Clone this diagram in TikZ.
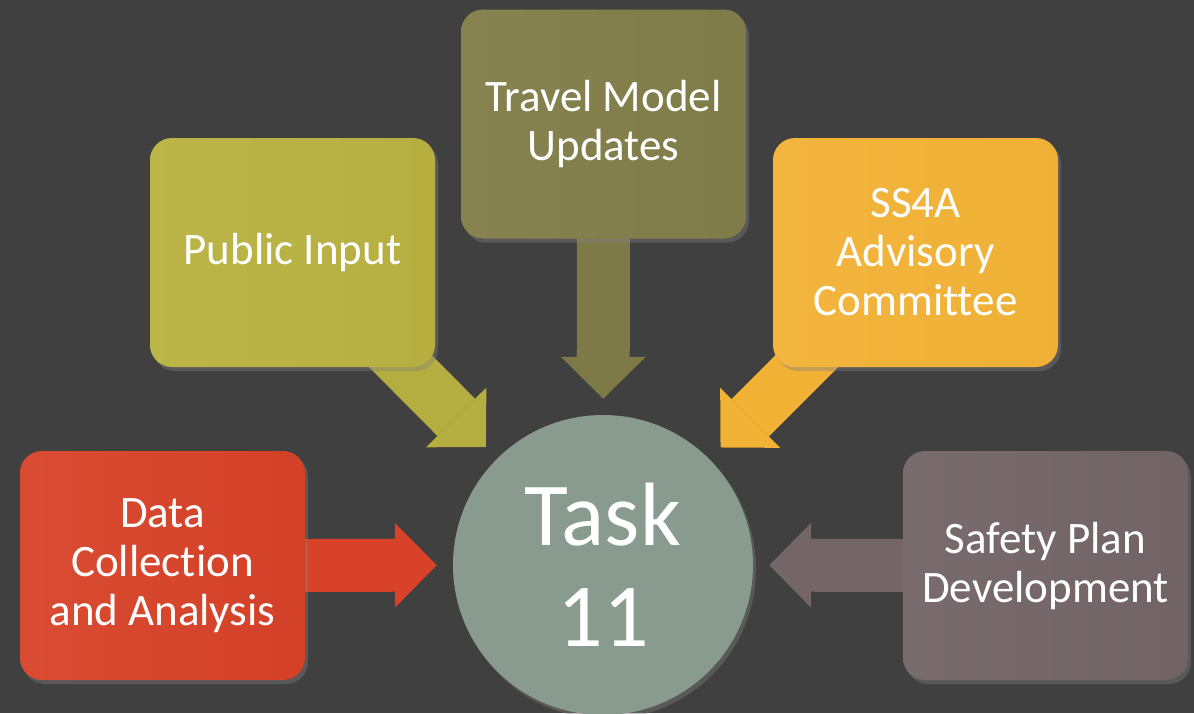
\documentclass[tikz,border=0pt]{standalone}
\usepackage{fontspec}
\setmainfont[RawFeature={-liga;-clig;-calt;-dlig}]{Carlito}
\usetikzlibrary{arrows.meta, shadows}
\definecolor{bggray}{RGB}{64, 64, 64}
\definecolor{datared}{RGB}{215, 66, 40}
\definecolor{publicolive}{RGB}{185, 178, 65}
\definecolor{travelbrown}{RGB}{129, 126, 74}
\definecolor{ssorange}{RGB}{242, 178, 54}
\definecolor{safetymauve}{RGB}{115, 101, 104}
\definecolor{taskgreen}{RGB}{137, 155, 143}
\pgfdeclarelayer{background}
\pgfsetlayers{background,main}

\begin{document}
\begin{tikzpicture}[
  x=1pt, y=-1pt,
  box/.style={rounded corners=22pt, minimum width=285pt, minimum height=229pt,
    align=center, text=white, font=\fontsize{45}{49}\selectfont,
    drop shadow={opacity=0.4, shadow xshift=3pt, shadow yshift=-4pt}},
  task/.style={circle, minimum size=300pt, inner sep=0pt, align=center, text=white,
    font=\fontsize{90}{101}\selectfont, fill=taskgreen,
    drop shadow={opacity=0.4, shadow xshift=3pt, shadow yshift=-4pt}},
  feed/.style={line width=53pt, shorten >=16pt,
    -{Triangle[length=42pt, width=85pt, line width=0pt]}},
  feedshadow/.style={feed, black, opacity=0.3, xshift=3pt, yshift=-4pt}
]
  \useasboundingbox (0,0) rectangle (1194,713);

  % Boxes
  \node[box, left color=datared!95!white, right color=datared!98!black] (data) at (162.5,565.5) {Data\\Collection\\and Analysis};
  \node[box, left color=publicolive!96!white, right color=publicolive!98!black] (public) at (292.5,252.5) {Public Input};
  \node[box, left color=travelbrown!96!white, right color=travelbrown!98!black] (travel) at (603.5,124) {Travel Model\\Updates};
  \node[box, left color=ssorange!96!white, right color=ssorange!99!black] (ss4a) at (915.5,252.5) {SS4A\\Advisory\\Committee};
  \node[box, left color=safetymauve!96!white, right color=safetymauve!98!black] (safety) at (1045.5,565.5) {Safety Plan\\Development};

  % Centre
  \node[task] (task11) at (603,565) {Task\\11};

  % Arrows (behind the boxes)
  \begin{pgfonlayer}{background}
    \fill[bggray] (0,0) rectangle (1194,713);
    \foreach \src in {data, public, travel, ss4a, safety}
      \draw[feedshadow] (\src.center) -- (task11);
    \draw[feed, datared] (data.center) -- (task11);
    \draw[feed, publicolive!97!black] (public.center) -- (task11);
    \draw[feed, travelbrown!97!black] (travel.center) -- (task11);
    \draw[feed, ssorange] (ss4a.center) -- (task11);
    \draw[feed, safetymauve] (safety.center) -- (task11);
  \end{pgfonlayer}
\end{tikzpicture}
\end{document}
